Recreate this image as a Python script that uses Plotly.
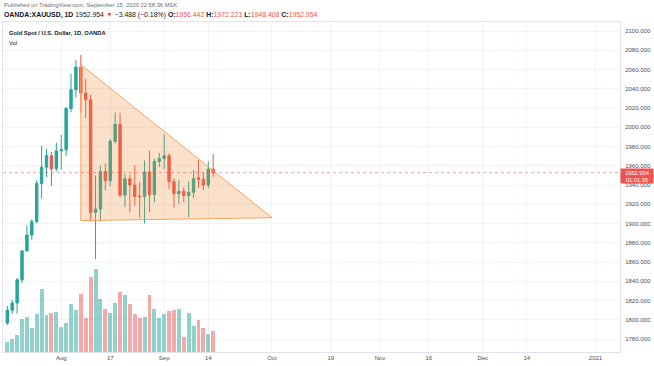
import plotly.graph_objects as go

# ---------------- data ----------------
dates = ["2020-07-17", "2020-07-20", "2020-07-21", "2020-07-22", "2020-07-23", "2020-07-24",
         "2020-07-27", "2020-07-28", "2020-07-29", "2020-07-30", "2020-07-31",
         "2020-08-03", "2020-08-04", "2020-08-05", "2020-08-06", "2020-08-07",
         "2020-08-10", "2020-08-11", "2020-08-12", "2020-08-13", "2020-08-14",
         "2020-08-17", "2020-08-18", "2020-08-19", "2020-08-20", "2020-08-21",
         "2020-08-24", "2020-08-25", "2020-08-26", "2020-08-27", "2020-08-28",
         "2020-08-31", "2020-09-01", "2020-09-02", "2020-09-03", "2020-09-04",
         "2020-09-07", "2020-09-08", "2020-09-09", "2020-09-10", "2020-09-11",
         "2020-09-14", "2020-09-15"]
opens = [1796.5, 1810.0, 1817.5, 1841.5, 1871.5, 1888.0, 1902.0, 1941.5, 1958.5, 1970.5, 1957.0,
         1975.5, 1976.5, 2019.5, 2039.0, 2062.5, 2035.5, 2028.5, 1911.5, 1915.0, 1954.0,
         1944.5, 1985.5, 2003.0, 1929.5, 1946.5, 1940.0, 1928.5, 1928.0, 1953.5, 1930.0,
         1964.5, 1967.5, 1970.5, 1943.5, 1931.0, 1933.5, 1929.0, 1932.5, 1947.5, 1946.0,
         1940.0, 1956.442]
highs = [1814.5, 1820.5, 1843.5, 1872.5, 1898.0, 1904.5, 1945.0, 1981.0, 1977.5, 1974.5, 1984.0,
         1992.0, 2021.0, 2055.5, 2070.0, 2075.0, 2050.0, 2034.0, 1950.0, 1960.0, 1962.5,
         1988.0, 2015.5, 2015.0, 1951.5, 1951.0, 1960.5, 1943.0, 1965.5, 1975.5, 1967.5,
         1973.5, 1992.5, 1973.0, 1947.0, 1945.5, 1937.5, 1943.5, 1955.5, 1966.0, 1953.0,
         1964.5, 1972.221]
lows = [1794.5, 1806.0, 1806.5, 1838.0, 1871.0, 1883.0, 1900.0, 1926.0, 1948.5, 1939.0, 1954.0,
        1956.0, 1970.0, 2015.5, 2031.0, 2015.5, 2009.5, 1902.0, 1863.0, 1902.0, 1934.5,
        1938.5, 1983.0, 1927.0, 1917.0, 1911.5, 1918.5, 1906.0, 1900.0, 1911.5, 1922.0,
        1958.5, 1956.5, 1936.0, 1916.5, 1920.5, 1922.0, 1906.5, 1926.5, 1936.5, 1934.5,
        1936.5, 1948.408]
closes = [1810.0, 1817.5, 1841.5, 1871.5, 1888.0, 1902.0, 1941.5, 1958.5, 1970.5, 1957.0, 1975.5,
          1976.5, 2019.5, 2039.0, 2062.5, 2035.5, 2028.5, 1911.5, 1915.0, 1954.0, 1944.5,
          1985.5, 2003.0, 1929.5, 1946.5, 1940.0, 1928.0, 1928.0, 1953.5, 1930.0, 1964.5,
          1967.5, 1970.5, 1943.5, 1931.0, 1933.5, 1929.0, 1932.5, 1946.5, 1946.0, 1940.0,
          1956.442, 1952.954]
volumes = [10, 13, 17, 33, 35, 24, 38, 63, 37, 39, 40, 25, 29, 48, 42, 58, 34, 75, 83, 53, 43,
           39, 49, 60, 57, 48, 38, 34, 35, 57, 43, 34, 38, 41, 42, 43, 15, 39, 26, 32, 24, 18, 21]

triangle_dates = ["2020-08-07", "2020-08-07", "2020-10-01", "2020-08-07"]
triangle_prices = [2065.0, 1903.0, 1906.0, 2065.0]

tick_dates = ["2020-08-03", "2020-08-17", "2020-09-01", "2020-09-14", "2020-10-01", "2020-10-19",
              "2020-11-02", "2020-11-16", "2020-12-01", "2020-12-14", "2021-01-01"]
tick_text = ["Aug", "17", "Sep", "14", "Oct", "19", "Nov", "16", "Dec", "14", "2021"]

last_price = closes[-1]
countdown = "01:01:35"

UP = "#26a69a"
DOWN = "#ef5350"
UP_VOL = "rgba(38,166,154,0.5)"
DOWN_VOL = "rgba(239,83,80,0.5)"
GRID = "#f0f3fa"
BORDER = "#e0e3eb"
FONT = "Liberation Sans"

fig = go.Figure()

# volume
vol_colors = [UP_VOL if c >= o else DOWN_VOL for o, c in zip(opens, closes)]
fig.add_trace(go.Bar(x=dates, y=volumes, yaxis="y2", marker=dict(color=vol_colors, line_width=0),
                     width=0.8 * 86400000, hoverinfo="skip", showlegend=False))

# triangle drawing
fig.add_trace(go.Scatter(x=triangle_dates, y=triangle_prices, mode="lines", fill="toself",
                         fillcolor="rgba(245,140,50,0.26)", line=dict(color="#f5a35e", width=1),
                         hoverinfo="skip", showlegend=False))

# candles
fig.add_trace(go.Candlestick(x=dates, open=opens, high=highs, low=lows, close=closes,
                             increasing=dict(line=dict(color=UP, width=1), fillcolor=UP),
                             decreasing=dict(line=dict(color=DOWN, width=1), fillcolor=DOWN),
                             whiskerwidth=0, showlegend=False))

# price line
fig.add_shape(type="line", xref="paper", x0=0, x1=1, yref="y", y0=last_price, y1=last_price,
              line=dict(color="rgba(239,83,80,0.5)", width=1, dash="dot"))

fig.update_layout(
    width=654, height=366,
    margin=dict(l=3, r=34, t=22, b=14),
    paper_bgcolor="white", plot_bgcolor="white",
    font=dict(family=FONT, size=6, color="#4a4e5a"),
    bargap=0,
    xaxis=dict(type="date", range=["2020-07-16 02:53", "2021-01-08"],
               rangebreaks=[dict(bounds=["sat", "mon"])],
               rangeslider=dict(visible=False),
               tickmode="array", tickvals=tick_dates, ticktext=tick_text,
               showgrid=True, gridcolor=GRID, gridwidth=1,
               showline=True, linecolor=BORDER, mirror=True, zeroline=False,
               tickfont=dict(size=6, color="#4a4e5a"), ticks="", ticklabelstandoff=0),
    yaxis=dict(side="right", range=[1766.5, 2109.35], dtick=20, tick0=0, tickformat=".3f",
               showgrid=True, gridcolor=GRID, gridwidth=1,
               showline=True, linecolor=BORDER, mirror=True, zeroline=False,
               tickfont=dict(size=6, color="#4a4e5a"), ticks="", ticklabelstandoff=3),
    yaxis2=dict(overlaying="y", range=[0, 330], visible=False, fixedrange=True),
)

header2 = ("<b>OANDA:XAUUSD, 1D</b> 1952.954 <span style='color:#ef5350'>▼</span> −3.488 (−0.18%) "
           "<b>O:</b><span style='color:#ef5350'>1956.442</span> "
           "<b>H:</b><span style='color:#ef5350'>1972.221</span> "
           "<b>L:</b><span style='color:#ef5350'>1948.408</span> "
           "<b>C:</b><span style='color:#ef5350'>1952.954</span>")

def py(px):
    return (352 - px) / 330.0

def pxx(px):
    return (px - 3) / 617.0

annots = [
    dict(text="Published on TradingView.com, September 15, 2020 22:58:36 MSK", x=pxx(2), y=py(5),
         font=dict(size=5.8, color="#6a6d78")),
    dict(text=header2, x=pxx(2), y=py(15), font=dict(size=6.9, color="#131722")),
    dict(text="<b>Gold Spot / U.S. Dollar, 1D, OANDA</b>", x=pxx(7), y=py(33),
         font=dict(size=5.8, color="#131722")),
    dict(text="Vol", x=pxx(7), y=py(43), font=dict(size=5.8, color="#131722")),
]
for a in annots:
    fig.add_annotation(xref="paper", yref="paper", xanchor="left", yanchor="middle",
                       showarrow=False, align="left", **a)

fig.add_annotation(xref="paper", x=1, xanchor="left", yref="y", y=last_price, yanchor="middle",
                   text="1952.954", showarrow=False, bgcolor=DOWN, width=31, height=6,
                   borderpad=0.5, font=dict(size=5.7, color="white"))
fig.add_annotation(xref="paper", x=1, xanchor="left", yref="y", y=last_price - 7.3,
                   yanchor="middle", text=countdown, showarrow=False, bgcolor=DOWN, width=31,
                   height=6, borderpad=0.5, font=dict(size=5.7, color="white"))

fig.write_html("out.html", config=dict(displayModeBar=False),
               post_script="document.body.style.margin='0';document.body.style.overflow='hidden';")
